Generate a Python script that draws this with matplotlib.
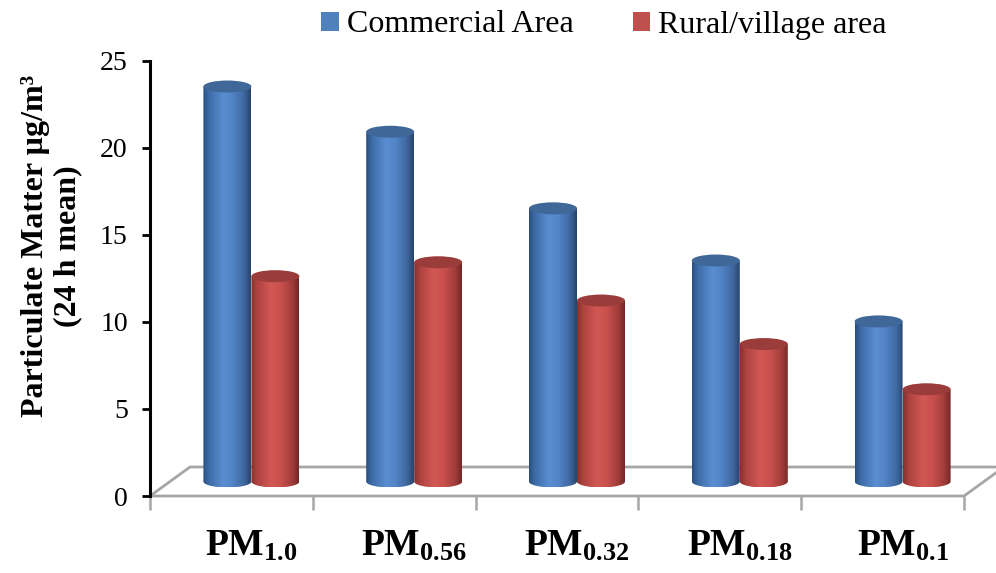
import numpy as np
import matplotlib
matplotlib.use('Agg')
from matplotlib import pyplot as plt
from matplotlib.patches import Ellipse, PathPatch, Rectangle
from matplotlib.path import Path
from matplotlib.colors import LinearSegmentedColormap

plt.rcParams['font.family'] = 'Liberation Serif'
plt.rcParams['mathtext.fontset'] = 'custom'
plt.rcParams['mathtext.rm'] = 'Liberation Serif'
plt.rcParams['mathtext.bf'] = 'Liberation Serif:bold'

# PM size fractions, 24 h mean concentration (ug/m3)
categories = [r'$\mathbf{PM_{1.0}}$', r'$\mathbf{PM_{0.56}}$', r'$\mathbf{PM_{0.32}}$',
              r'$\mathbf{PM_{0.18}}$', r'$\mathbf{PM_{0.1}}$']
commercial = [22.7, 20.1, 15.7, 12.7, 9.2]
rural = [11.8, 12.6, 10.4, 7.9, 5.3]
series_names = ['Commercial Area', 'Rural/village area']
yticks = [0, 5, 10, 15, 20, 25]

W, H = 996, 573
fig = plt.figure(figsize=(W / 100, H / 100), dpi=100)
ax = fig.add_axes([150 / W, 1 - 496 / H, 814 / W, 435 / H])
ax.set_xlim(-0.5, 4.5)
ax.set_ylim(0, 25)

# pixel -> data scale
px_x = 814 / 5.0
px_y = 435 / 25.0
depth_dx = 40 / px_x
depth_dy = 29 / px_y

# floor (oblique parallelogram)
fl = [(-0.5, 0), (4.5, 0), (4.5 + depth_dx, depth_dy), (-0.5 + depth_dx, depth_dy), (-0.5, 0)]
ax.plot([p[0] for p in fl], [p[1] for p in fl], color='#a6a6a6', lw=2.0,
        clip_on=False, zorder=1, solid_joinstyle='miter')

blue_cm = LinearSegmentedColormap.from_list('b', [
    (0.0, '#2a4f7e'), (0.12, '#3d6ba6'), (0.42, '#5a8ed2'),
    (0.62, '#5283c6'), (0.86, '#3e679e'), (1.0, '#27446b')])
red_cm = LinearSegmentedColormap.from_list('r', [
    (0.0, '#86302d'), (0.12, '#ad423f'), (0.42, '#d25855'),
    (0.62, '#c9504d'), (0.86, '#a13d3a'), (1.0, '#722725')])
grad = np.linspace(0, 1, 200).reshape(1, -1)


def cylinder(xc, h, w, cmap, capcol, z):
    rx = w / 2
    ry = 6.0 / px_y
    base = depth_dy / 2
    top = base + h
    t = np.linspace(0, -np.pi, 60)
    verts = [(xc - rx, top), (xc + rx, top)]
    verts += [(xc + rx * np.cos(a), base + ry * np.sin(a)) for a in t]
    verts += [(xc - rx, top)]
    codes = [Path.MOVETO] + [Path.LINETO] * (len(verts) - 2) + [Path.CLOSEPOLY]
    body = PathPatch(Path(verts, codes), fc='none', ec='none', zorder=z)
    ax.add_patch(body)
    im = ax.imshow(grad, cmap=cmap, extent=[xc - rx, xc + rx, base - ry, top],
                   aspect='auto', interpolation='bilinear', zorder=z)
    im.set_clip_path(body)
    ax.add_patch(Ellipse((xc, top), 2 * rx, 2 * ry, fc=capcol, ec='none', zorder=z + 0.1))


bw = 48 / px_x
x = np.arange(len(categories))
for i in range(len(categories)):
    xc = x[i] + depth_dx / 2
    cylinder(xc - bw / 2, commercial[i], bw, blue_cm, '#3f6899', 3 + i)
    cylinder(xc + bw / 2, rural[i], bw, red_cm, '#9a3d3a', 3.5 + i)

ax.set_xlim(-0.5, 4.5)
ax.set_ylim(0, 25)

for s in ['top', 'right', 'bottom']:
    ax.spines[s].set_visible(False)
ax.spines['left'].set_linewidth(2.2)
ax.spines['left'].set_color('black')

ax.set_yticks(yticks)
ax.set_yticklabels([str(v) for v in yticks], fontsize=20)
ax.tick_params(axis='y', length=6, width=2, pad=10, color='black')

# category labels sit under the middle of the floor depth
ax.set_xticks(x + depth_dx / 2)
ax.set_xticklabels(categories, fontsize=27)
ax.tick_params(axis='x', length=0, pad=24)
ax.set_xticks(np.arange(-0.5, 5, 1), minor=True)
ax.tick_params(axis='x', which='minor', length=10, width=1.8, color='#a6a6a6')

ax.set_ylabel('Particulate Matter µg/m³\n(24 h mean)', fontsize=23,
              fontweight='bold', linespacing=1.15)
ax.yaxis.set_label_coords(-0.083, (496 - 246) / 435)

handles = [Rectangle((0, 0), 1, 1, fc='#4f81bd'), Rectangle((0, 0), 1, 1, fc='#c0504d')]
fig.legend(handles, series_names, loc='center', bbox_to_anchor=(604 / W, 1 - 25 / H),
           ncol=2, frameon=False, fontsize=23, handlelength=0.55, handleheight=0.55,
           handletextpad=0.25, columnspacing=1.85, borderpad=0)

fig.savefig('out.png', dpi=100)
